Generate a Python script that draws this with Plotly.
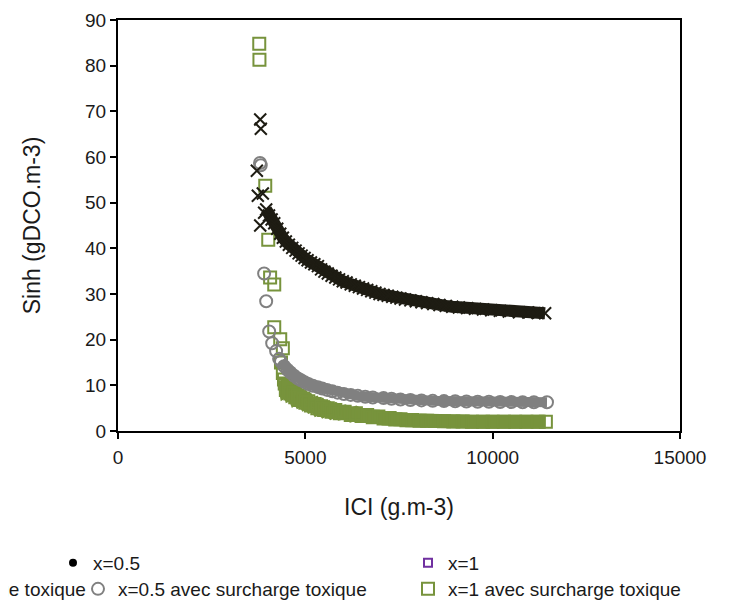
import plotly.graph_objects as go

# ---------------- data ----------------
# x=0 avec surcharge toxique (black X) - isolated early points
x0_scatter_ici = [3706, 3732, 3865, 3900, 3796, 3796, 3812]
x0_scatter_sinh = [57.0, 51.5, 52.0, 47.8, 45.0, 68.2, 66.2]
# dense band
x0_band_ici = [3955, 4030, 4100, 4170, 4250, 4330, 4400, 4480, 4560, 4650, 4740, 4820,
               4900, 4980, 5060, 5150, 5240, 5336, 5420, 5510, 5600, 5700, 5800, 5900,
               6000, 6100, 6212, 6320, 6430, 6540, 6650, 6760, 6870, 6980, 7088, 7200,
               7320, 7430, 7540, 7660, 7805, 7950, 8100, 8250, 8415, 8580, 8750, 8920,
               9100, 9318, 9530, 9743, 9960, 10194, 10430, 10700, 10950, 11200, 11400]
x0_band_sinh = [48.5, 47.2, 46.3, 45.5, 44.3, 43.2, 42.3, 41.5, 40.8, 40.1, 39.5, 38.9,
                38.4, 37.9, 37.4, 36.9, 36.5, 36.1, 35.4, 34.9, 34.5, 34.0, 33.6, 33.2,
                32.8, 32.5, 32.1, 31.8, 31.5, 31.2, 30.9, 30.6, 30.3, 30.0, 29.8, 29.6,
                29.4, 29.2, 29.0, 28.8, 28.6, 28.4, 28.2, 28.0, 27.8, 27.6, 27.4, 27.2,
                27.05, 26.9, 26.75, 26.6, 26.45, 26.3, 26.15, 26.0, 25.95, 25.85, 25.8]

# x=0.5 avec surcharge toxique (grey open circles)
x05_scatter_ici = [3790, 3810, 3900, 3955, 4035, 4115, 4220, 4300]
x05_scatter_sinh = [58.7, 58.2, 34.5, 28.4, 21.8, 19.2, 17.5, 15.8]
x05_band_ici = [4350, 4433, 4520, 4600, 4700, 4800, 4885, 4980, 5080, 5200, 5336, 5450,
                5580, 5720, 5860, 6030, 6212, 6400, 6600, 6800, 7088, 7300, 7540, 7805,
                8100, 8400, 8700, 9000, 9300, 9600, 9900, 10200, 10500, 10800, 11100, 11450]
x05_band_sinh = [15.2, 14.2, 13.4, 12.8, 12.1, 11.5, 11.1, 10.7, 10.3, 9.9, 9.6, 9.3,
                 9.0, 8.7, 8.4, 8.1, 7.9, 7.7, 7.5, 7.35, 7.2, 7.05, 6.9, 6.8,
                 6.7, 6.6, 6.55, 6.5, 6.45, 6.4, 6.4, 6.35, 6.35, 6.3, 6.3, 6.3]

# x=1 avec surcharge toxique (green open squares)
x1_scatter_ici = [3770, 3775, 3930, 4010, 4060, 4170, 4170, 4330, 4400, 4350, 4400]
x1_scatter_sinh = [84.8, 81.3, 53.7, 41.9, 33.6, 32.1, 22.7, 20.1, 18.1, 15.0, 12.7]
x1_band_ici = [4430, 4450, 4480, 4560, 4600, 4680, 4730, 4800, 4860, 4940, 5000, 5080,
               5150, 5250, 5320, 5420, 5500, 5600, 5700, 5800, 5920, 6050, 6212, 6350,
               6500, 6650, 6800, 6950, 7088, 7250, 7400, 7540, 7700, 7850, 8050, 8250,
               8450, 8700, 8950, 9200, 9450, 9743, 10000, 10300, 10600, 10900, 11200, 11420]
x1_band_sinh = [11.3, 10.4, 9.0, 9.4, 8.2, 8.5, 7.4, 7.8, 6.8, 7.1, 6.2, 6.5,
                5.6, 5.9, 5.0, 5.4, 4.6, 5.0, 4.2, 4.6, 3.9, 4.2, 3.5, 3.9,
                3.3, 3.5, 3.0, 3.15, 2.75, 2.85, 2.5, 2.55, 2.35, 2.4, 2.25, 2.25,
                2.2, 2.15, 2.1, 2.1, 2.05, 2.05, 2.0, 2.0, 2.0, 2.0, 2.0, 2.0]

x_ticks = [0, 5000, 10000, 15000]
x_tick_labels = ["0", "5000", "10000", "15000"]
y_ticks = [0, 10, 20, 30, 40, 50, 60, 70, 80, 90]
y_tick_labels = ["0", "10", "20", "30", "40", "50", "60", "70", "80", "90"]

name_a = "x=0.5"
name_b = "x=1"
name_c = "x=0 avec surcharge toxique"
name_d = "x=0.5 avec surcharge toxique"
name_e = "x=1 avec surcharge toxique"

BLACK = "#1e1c13"
GREY = "#808080"
GREEN = "#77933c"
PURPLE = "#7030a0"
FONT = "Liberation Sans, Arial, sans-serif"

fig = go.Figure()

# underlay bands (same data, drawn as thick lines to fill the dense cloud)
fig.add_trace(go.Scatter(x=x1_band_ici, y=x1_band_sinh, mode="lines",
                         line=dict(color=GREEN, width=14), showlegend=False, hoverinfo="skip"))
fig.add_trace(go.Scatter(x=x1_scatter_ici + x1_band_ici, y=x1_scatter_sinh + x1_band_sinh,
                         mode="markers", name=name_e, legend="legend5",
                         marker=dict(symbol="square-open", size=12, color=GREEN,
                                     line=dict(color=GREEN, width=2))))

fig.add_trace(go.Scatter(x=x05_band_ici, y=x05_band_sinh, mode="lines",
                         line=dict(color=GREY, width=10), showlegend=False, hoverinfo="skip"))
fig.add_trace(go.Scatter(x=x05_scatter_ici + x05_band_ici, y=x05_scatter_sinh + x05_band_sinh,
                         mode="markers", name=name_d, legend="legend4",
                         marker=dict(symbol="circle-open", size=12, color=GREY,
                                     line=dict(color=GREY, width=2))))

fig.add_trace(go.Scatter(x=x0_band_ici, y=x0_band_sinh, mode="lines",
                         line=dict(color=BLACK, width=12), showlegend=False, hoverinfo="skip"))
fig.add_trace(go.Scatter(x=x0_scatter_ici + x0_band_ici, y=x0_scatter_sinh + x0_band_sinh,
                         mode="markers", name=name_c, showlegend=False,
                         marker=dict(symbol="x-thin", size=12, color=BLACK,
                                     line=dict(color=BLACK, width=2))))

# series without visible points (legend entries only)
fig.add_trace(go.Scatter(x=[None], y=[None], mode="markers", name=name_a, legend="legend",
                         marker=dict(symbol="circle", size=8, color="black")))
fig.add_trace(go.Scatter(x=[None], y=[None], mode="markers", name=name_b, legend="legend2",
                         marker=dict(symbol="square-open", size=8, color=PURPLE,
                                     line=dict(color=PURPLE, width=2))))

# page body has an 8px margin: work in figure pixels = page pixels - 8
W, H = 719, 594
L, R, T, B = 110, 47, 12, 171
pw = W - L - R
ph = H - T - B


def px_x(p):
    return (p - L) / pw


def px_y(p):
    return (H - B - p) / ph


leg_font = dict(family=FONT, size=19, color="#1a1a1a")


def leg(xpx, ypx):
    return dict(x=px_x(xpx), y=px_y(ypx), xanchor="left", yanchor="middle",
                orientation="h", font=leg_font, bgcolor="rgba(0,0,0,0)",
                borderwidth=0, itemwidth=30)


fig.update_layout(
    width=W, height=H,
    margin=dict(l=L, r=R, t=T, b=B, autoexpand=False),
    paper_bgcolor="white", plot_bgcolor="white",
    font=dict(family=FONT, size=19, color="#1a1a1a"),
    showlegend=True,
    legend=leg(45, 555),
    legend2=leg(400, 555),
    legend4=leg(70, 581),
    legend5=leg(400, 581),
    annotations=[dict(text=name_c, x=px_x(80), y=px_y(581), xref="paper", yref="paper",
                      xanchor="right", yanchor="middle", showarrow=False, font=leg_font)],
)

fig.update_xaxes(range=[0, 15000], tickvals=x_ticks, ticktext=x_tick_labels,
                 ticks="outside", ticklen=6,
                 tickwidth=1.5, tickcolor="black", showline=True, linecolor="black",
                 linewidth=2, mirror=True, showgrid=False, zeroline=False,
                 title=dict(text="ICI (g.m-3)", standoff=32), ticklabelstandoff=2)
fig.update_yaxes(range=[0, 90], tickvals=y_ticks, ticktext=y_tick_labels,
                 ticks="outside", ticklen=6,
                 tickwidth=1.5, tickcolor="black", showline=True, linecolor="black",
                 linewidth=2, mirror=True, showgrid=False, zeroline=False,
                 title=dict(text="Sinh (gDCO.m-3)", standoff=38), ticklabelstandoff=0)

fig.write_html("out.html")
